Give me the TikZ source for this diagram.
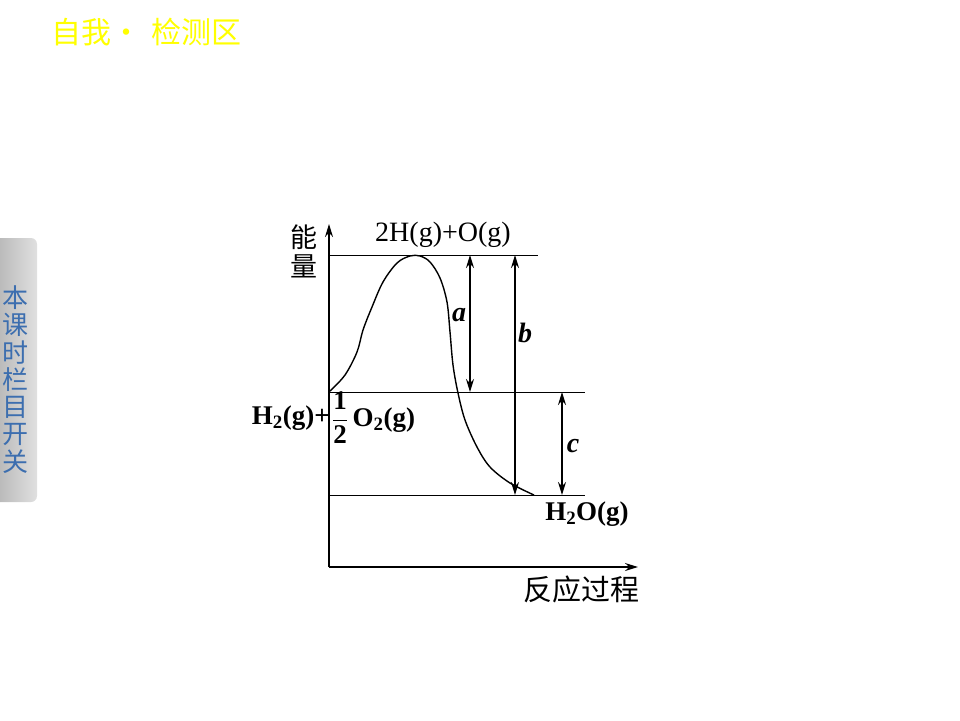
\documentclass[tikz,border=0pt]{standalone}
\usepackage{amsmath}
\usepackage{fontspec}
\setmainfont{Liberation Serif}
\newfontfamily\cjk{Noto Sans CJK SC}
\usetikzlibrary{arrows.meta, positioning}

\definecolor{titleyellow}{RGB}{255,255,0}
\definecolor{tabblue}{RGB}{60,110,175}

\begin{document}
\begin{tikzpicture}[x=1pt, y=-1pt,
  axis/.style={-{Stealth[length=13pt,width=8pt]}, line width=1.6pt},
  level/.style={line width=0.8pt},
  dim/.style={{Stealth[length=13pt,width=8pt]}-{Stealth[length=13pt,width=8pt]}, line width=1.6pt},
  chem/.style={font=\fontsize{28}{30}\selectfont, inner sep=0pt},
  var/.style={font=\fontsize{28}{30}\selectfont\bfseries\itshape, inner sep=0pt},
  zh/.style={font=\cjk\fontsize{26}{28}\selectfont, inner sep=0pt}
]
  \useasboundingbox (0,0) rectangle (960,720);

  % header and side tab
  \node[zh, font=\cjk\fontsize{30}{32}\selectfont, text=titleyellow] (title) at (147,32) {自我·\,\,检测区};
  \shade[left color=black!30, right color=black!12, rounded corners=6pt]
    (-8,238) rectangle (37,502);
  \foreach \ch [count=\i from 0] in {本,课,时,栏,目,开,关}
    \node[zh, text=tabblue] (tab\i) at (15,{298+27.3*\i}) {\ch};

  % axes
  \coordinate (o)    at (329,567);
  \coordinate (ytop) at (329,224);
  \coordinate (xend) at (638,567);
  \draw[axis] (o) -- (ytop);
  \draw[axis] (o) -- (xend);

  % energy levels
  \coordinate (top0) at (329,255);  \coordinate (top1) at (538,255);
  \coordinate (mid0) at (329,392);  \coordinate (mid1) at (585,392);
  \coordinate (low0) at (329,495);  \coordinate (low1) at (585,495);
  \draw[level] (top0) -- (top1);
  \draw[level] (mid0) -- (mid1);
  \draw[level] (low0) -- (low1);

  % reaction path
  \draw[line width=1.4pt] plot[smooth, tension=0.55] coordinates {
    (330,391) (345,375) (357,352) (363,330) (372,307) (383,282) (397,263)
    (410,256) (420,256) (430,262) (440,278) (447,302) (450,332) (453,365)
    (458,393) (465,420) (477,447) (490,467) (510,483) (534,495)};

  % energy differences
  \draw[dim] (470,392) -- (470,255);
  \draw[dim] (515,495) -- (515,255);
  \draw[dim] (562,495) -- (562,392);
  \node[var] (a) at (459,315) {a};
  \node[var] (b) at (525,333) {b};
  \node[var] (c) at (573,446) {c};

  % labels
  \node[zh, font=\cjk\fontsize{27}{29}\selectfont] (neng)  at (304,237) {能};
  \node[zh, font=\cjk\fontsize{27}{29}\selectfont] (liang) at (304,266) {量};
  \node[chem] (atoms) at (443,235) {2H(g)+O(g)};
  \node[chem, font=\fontsize{27}{29}\selectfont\bfseries, anchor=east] (react) at (330,418)
    {H\textsubscript{2}(g)+};
  \node[chem, font=\fontsize{27}{29}\selectfont\bfseries, anchor=west] (react2) at (332,418)
    {$\dfrac{\text{1}}{\text{2}}$\,O\textsubscript{2}(g)};
  \node[chem, font=\fontsize{27}{29}\selectfont\bfseries] (water) at (587,514) {H\textsubscript{2}O(g)};
  \node[zh, font=\cjk\fontsize{29}{31}\selectfont] (process) at (581,589) {反应过程};
\end{tikzpicture}
\end{document}
